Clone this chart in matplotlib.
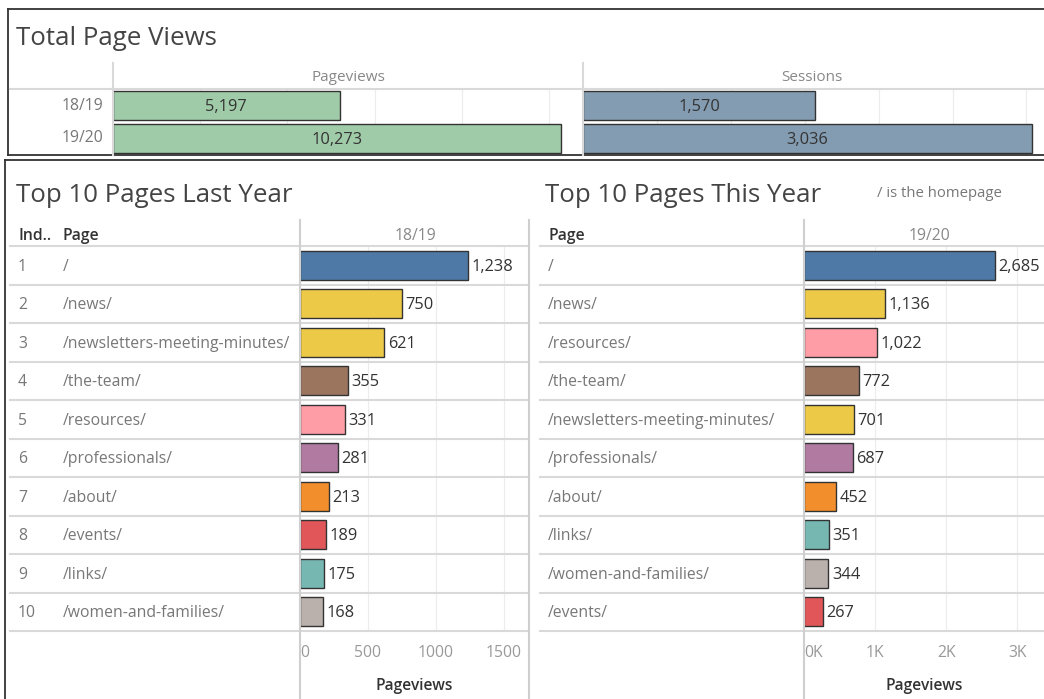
import matplotlib.pyplot as plt
from matplotlib.lines import Line2D

# ------------------------------------------------------------------
# data
# ------------------------------------------------------------------
seasons = ["18/19", "19/20"]
pageviews_total = [5197, 10273]
sessions_total = [1570, 3036]

index_ly = [1, 2, 3, 4, 5, 6, 7, 8, 9, 10]
pages_ly = ["/", "/news/", "/newsletters-meeting-minutes/", "/the-team/",
            "/resources/", "/professionals/", "/about/", "/events/",
            "/links/", "/women-and-families/"]
views_ly = [1238, 750, 621, 355, 331, 281, 213, 189, 175, 168]

pages_ty = ["/", "/news/", "/resources/", "/the-team/",
            "/newsletters-meeting-minutes/", "/professionals/", "/about/",
            "/links/", "/women-and-families/", "/events/"]
views_ty = [2685, 1136, 1022, 772, 701, 687, 452, 351, 344, 267]

page_colors = {
    "/": "#4e79a7",
    "/news/": "#edc948",
    "/newsletters-meeting-minutes/": "#edc948",
    "/the-team/": "#9c755f",
    "/resources/": "#ff9da7",
    "/professionals/": "#b07aa1",
    "/about/": "#f28e2b",
    "/events/": "#e15759",
    "/links/": "#76b7b2",
    "/women-and-families/": "#bab0ac",
}

# ------------------------------------------------------------------
# helpers (pixel coords, origin top-left)
# ------------------------------------------------------------------
W, H = 1044, 699
plt.rcParams["font.family"] = ["Open Sans", "DejaVu Sans"]
fig = plt.figure(figsize=(W / 100, H / 100), dpi=100)

DARK = "#333333"
GREY = "#777777"
SEP = "#d9d9d9"
TITLE_FS = 18.6
ROW_FS = 11.3
VAL_FS = 11.8
DY = 1.5  # small nudge so text centres sit on the row centres


def fx(x):
    return x / W


def fy(y):
    return 1 - y / H


def add_ax(x0, y0, x1, y1):
    return fig.add_axes([fx(x0), fy(y1), (x1 - x0) / W, (y1 - y0) / H])


def hline(y, x0, x1, color=SEP, lw=1.5):
    fig.add_artist(Line2D([fx(x0), fx(x1)], [fy(y), fy(y)], color=color, lw=lw))


def vline(x, y0, y1, color=SEP, lw=1.5):
    fig.add_artist(Line2D([fx(x), fx(x)], [fy(y0), fy(y1)], color=color, lw=lw))


def text(x, y, s, **kw):
    kw.setdefault("va", "center")
    fig.text(fx(x), fy(y + DY), s, **kw)


def clean(ax):
    for s in ax.spines.values():
        s.set_visible(False)
    ax.set_facecolor("none")
    ax.tick_params(length=0)
    ax.grid(axis="x", color="#ececec", lw=0.8)
    ax.set_axisbelow(True)


# ------------------------------------------------------------------
# top panel: totals
# ------------------------------------------------------------------
hline(9, 8, W, color=DARK, lw=1.3)
hline(155, 8, W, color=DARK, lw=1.3)
vline(8, 9, 155, color=DARK, lw=1.3)
text(16, 37, "Total Page Views", fontsize=TITLE_FS, color="#444444")
hline(89, 10, W)
vline(113, 63, 155)
vline(583, 63, 155)
text(348, 76, "Pageviews", fontsize=11, color="#888888", ha="center")
text(812, 76, "Sessions", fontsize=11, color="#888888", ha="center")

for i, s in enumerate(seasons):
    text(103, 105 + 32 * i, s, fontsize=ROW_FS, color=GREY, ha="right")

top_specs = [
    (113, 583, 10780, pageviews_total, "#a0cba8", [2000, 4000, 6000, 8000, 10000]),
    (583, 1040, 3092, sessions_total, "#849cb1", [500, 1000, 1500, 2000, 2500, 3000]),
]
for x0, x1, xmax, vals, col, grid in top_specs:
    ax = add_ax(x0, 89, x1, 155)
    clean(ax)
    ypos = list(range(len(vals)))
    ax.barh(ypos, vals, height=0.86, color=col, edgecolor=DARK, lw=1.0)
    for y, v in zip(ypos, vals):
        ax.annotate(f"{v:,}", (v / 2, y), xytext=(0, -1), textcoords="offset points",
                    ha="center", va="center", fontsize=VAL_FS, color=DARK)
    ax.set_xlim(0, xmax)
    ax.set_ylim(len(vals) - 0.5, -0.5)
    ax.set_xticks(grid)
    ax.set_yticks([])
    ax.set_xticklabels([])

# ------------------------------------------------------------------
# bottom panel: top 10 pages
# ------------------------------------------------------------------
hline(160, 5, W, color=DARK, lw=1.3)
vline(5, 160, H, color=DARK, lw=1.3)
text(16, 194, "Top 10 Pages Last Year", fontsize=TITLE_FS, color="#444444")
text(545, 194, "Top 10 Pages This Year", fontsize=TITLE_FS, color="#444444")
text(877, 192, "/ is the homepage", fontsize=10.7, color=GREY)

ROW0, ROWH = 246, 38.5
n = len(pages_ly)
for k in range(n + 1):
    hline(ROW0 + ROWH * k, 10, 529)
    hline(ROW0 + ROWH * k, 540, W)
vline(300, 220, H, color="#cfcfcf")
vline(529, 220, H, color="#cfcfcf")
vline(804, 220, H, color="#cfcfcf")

text(18, 234, "Ind..", fontsize=ROW_FS, color=DARK, fontweight="semibold")
text(63, 234, "Page", fontsize=ROW_FS, color=DARK, fontweight="semibold")
text(548, 234, "Page", fontsize=ROW_FS, color=DARK, fontweight="semibold")
text(415, 234, "18/19", fontsize=ROW_FS, color="#888888", ha="center")
text(929, 234, "19/20", fontsize=ROW_FS, color="#888888", ha="center")

for k in range(n):
    yc = ROW0 + ROWH * (k + 0.5)
    text(18, yc, str(index_ly[k]), fontsize=ROW_FS, color=GREY)
    text(63, yc, pages_ly[k], fontsize=ROW_FS, color=GREY)
    text(548, yc, pages_ty[k], fontsize=ROW_FS, color=GREY)

bottom_specs = [
    (300, 529, 1687, pages_ly, views_ly, [0, 500, 1000, 1500],
     ["0", "500", "1000", "1500"]),
    (804, W, 3375, pages_ty, views_ty, [0, 1000, 2000, 3000],
     ["0K", "1K", "2K", "3K"]),
]
for x0, x1, xmax, pages, vals, ticks, tlabels in bottom_specs:
    ax = add_ax(x0, ROW0, x1, ROW0 + ROWH * n)
    clean(ax)
    ypos = list(range(len(vals)))
    ax.barh(ypos, vals, height=0.75, color=[page_colors[p] for p in pages],
            edgecolor=DARK, lw=1.0)
    for y, v in zip(ypos, vals):
        ax.annotate(f"{v:,}", (v, y), xytext=(2.5, -1), textcoords="offset points",
                    ha="left", va="center", fontsize=VAL_FS, color=DARK)
    ax.set_xlim(0, xmax)
    ax.set_ylim(len(vals) - 0.5, -0.5)
    ax.set_yticks([])
    ax.set_xticks(ticks)
    ax.set_xticklabels(tlabels, fontsize=11.3, color="#999999")
    ax.get_xticklabels()[0].set_horizontalalignment("left")
    ax.tick_params(axis="x", pad=10)
    ax.set_xlabel("Pageviews", fontsize=11.2, color=DARK, fontweight="semibold", labelpad=12)

fig.savefig("out.png", dpi=100)
